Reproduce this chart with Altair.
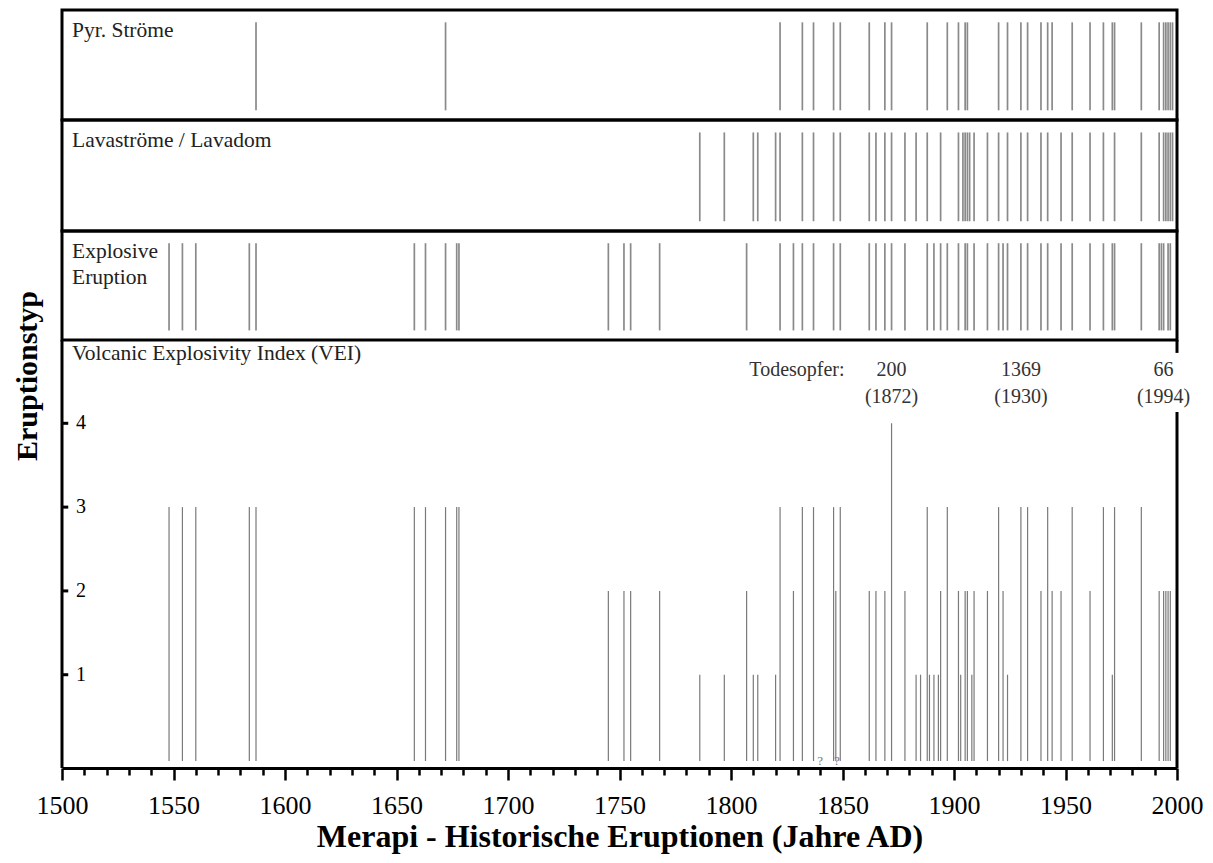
import altair as alt
import pandas as pd

FONT = "Liberation Serif"

# ---------------- data (years) ----------------
pyr_years = [1587, 1672, 1822, 1832, 1837, 1846, 1849, 1862, 1869, 1872, 1888, 1897,
             1902, 1905, 1906, 1920, 1924, 1930, 1933, 1939, 1942, 1944, 1953, 1961,
             1967, 1971, 1972, 1984, 1992, 1994, 1995, 1996, 1997, 1998]

lava_years = [1786, 1797, 1810, 1812, 1820, 1822, 1832, 1837, 1846, 1849, 1862, 1865,
              1869, 1872, 1878, 1883, 1888, 1894, 1902, 1904, 1905, 1906, 1907, 1909,
              1915, 1920, 1924, 1930, 1933, 1939, 1942, 1948, 1953, 1961, 1967, 1972,
              1984, 1992, 1994, 1995, 1996, 1997, 1998]

expl_years = [1548, 1554, 1560, 1584, 1587, 1658, 1663, 1672, 1677, 1678, 1745, 1752,
              1755, 1768, 1807, 1822, 1828, 1832, 1837, 1846, 1849, 1862, 1865, 1869,
              1872, 1878, 1888, 1891, 1894, 1897, 1902, 1905, 1906, 1909, 1915, 1920,
              1922, 1924, 1930, 1933, 1939, 1942, 1948, 1953, 1961, 1967, 1971, 1972,
              1984, 1992, 1993, 1994, 1996, 1997]

vei_years = [1548, 1554, 1560, 1584, 1587, 1658, 1663, 1672, 1677, 1678, 1745, 1752,
             1755, 1768, 1786, 1797, 1807, 1810, 1812, 1820, 1822, 1828, 1832, 1837,
             1846, 1847, 1849, 1862, 1865, 1869, 1872, 1878, 1883, 1885, 1888, 1889,
             1891, 1893, 1894, 1897, 1902, 1903, 1905, 1906, 1908, 1909, 1915, 1920,
             1922, 1924, 1930, 1933, 1939, 1942, 1944, 1948, 1953, 1961, 1967, 1971,
             1972, 1984, 1992, 1994, 1995, 1996, 1997]
vei_values = [3, 3, 3, 3, 3, 3, 3, 3, 3, 3, 2, 2,
              2, 2, 1, 1, 2, 1, 1, 1, 3, 2, 3, 3,
              3, 2, 3, 2, 2, 2, 4, 2, 1, 1, 3, 1,
              1, 1, 2, 3, 2, 1, 2, 2, 1, 2, 2, 3,
              2, 1, 3, 3, 2, 3, 2, 2, 3, 2, 3, 1,
              3, 3, 2, 2, 2, 2, 2]

unknown_years = [1840, 1847.5]          # eruptions marked "?"

death_years = [1872, 1930, 1994]
death_counts = ["200", "1369", "66"]

x_ticks = list(range(1500, 2001, 10))
vei_ticks = [1, 2, 3, 4]

# ---------------- scales ----------------
W = 1115
x_scale = alt.Scale(domain=[1500, 2000], nice=False, zero=False)
band_scale = alt.Scale(domain=[-0.11, 1.14], nice=False, zero=False)
vei_scale = alt.Scale(domain=[-0.113, 4.994], nice=False, zero=False)

LINE_COLOR = "#8a8a8a"
LABEL_SIZE = 21.5


def band_panel(years, label, height):
    df = pd.DataFrame({"year": years})
    rules = alt.Chart(df).mark_rule(color=LINE_COLOR, strokeWidth=1.7).encode(
        x=alt.X("year:Q", scale=x_scale, axis=None),
        y=alt.YDatum(0, scale=band_scale, axis=None),
        y2=alt.Y2Datum(1),
    )
    text = alt.Chart(pd.DataFrame({"label": [label]})).mark_text(
        align="left", baseline="alphabetic", font=FONT, fontSize=LABEL_SIZE,
        color="#222222", lineBreak="\n", lineHeight=26,
    ).encode(x=alt.value(10), y=alt.value(27), text="label:N")
    return alt.layer(rules, text).properties(
        width=W, height=height,
        view=alt.ViewBackground(stroke="black", strokeWidth=3),
    )


p1 = band_panel(pyr_years, "Pyr. Ströme", 110)
p2 = band_panel(lava_years, "Lavaströme / Lavadom", 111)
p3 = band_panel(expl_years, "Explosive\nEruption", 109)

# ---------------- VEI panel ----------------
vei_df = pd.DataFrame({"year": vei_years, "vei": vei_values})

x_axis = alt.Axis(
    values=x_ticks, format="d",
    labelExpr="datum.value % 50 === 0 ? datum.label : ''",
    tickSize={"condition": {"test": "datum.value % 50 === 0", "value": 12}, "value": 7},
    tickWidth=2.5, tickColor="black",
    domainColor="black", domainWidth=3,
    labelFont=FONT, labelFontSize=26, labelColor="black", labelPadding=12,
    labelFlush=False, labelOverlap=False,
    grid=False,
    title="Merapi - Historische Eruptionen (Jahre AD)",
    titleFont=FONT, titleFontSize=32, titleFontWeight="bold", titleColor="black",
    titlePadding=3,
)


def X(field=None, datum=None):
    if datum is not None:
        return alt.XDatum(datum, scale=x_scale, axis=x_axis)
    return alt.X(field, scale=x_scale, axis=x_axis)


def Y(field=None, datum=None):
    if datum is not None:
        return alt.YDatum(datum, scale=vei_scale, axis=None)
    return alt.Y(field, scale=vei_scale, axis=None)


vei_rules = alt.Chart(vei_df).mark_rule(color="#7a7a7a", strokeWidth=1.2).encode(
    x=X("year:Q"),
    y=Y("vei:Q"),
    y2=alt.Y2Datum(-0.03),
)

# frame of the VEI panel (right edge interrupted behind the "66 (1994)" text)
frame_df = pd.DataFrame({
    "x": [1500, 2000, 2000],
    "y0": [-0.113, -0.113, 4.84],
    "y1": [4.994, 4.135, 4.994],
})
frame = alt.Chart(frame_df).mark_rule(color="black", strokeWidth=3).encode(
    x=X("x:Q"),
    y=Y("y0:Q"),
    y2="y1:Q",
)

# VEI axis: ticks and labels drawn inside the frame
vtick_df = pd.DataFrame({"v": vei_ticks, "lab": [str(v) for v in vei_ticks]})
vticks = alt.Chart(vtick_df).mark_rule(color="black", strokeWidth=3).encode(
    x=X(datum=1500), x2=alt.X2Datum(1502.8), y=Y("v:Q"),
)
vlabels = alt.Chart(vtick_df).mark_text(
    font=FONT, fontSize=20, color="black", align="left", baseline="middle", dx=14,
).encode(x=X(datum=1500), y=Y("v:Q"), text="lab:N")

qmarks = alt.Chart(pd.DataFrame({"year": unknown_years, "t": ["?"] * len(unknown_years)})).mark_text(
    font=FONT, fontSize=13, color="#777777", baseline="middle",
).encode(x=X("year:Q"), y=alt.value(421), text="t:N")

death_df = pd.DataFrame({
    "year": death_years,
    "count": death_counts,
    "ylab": ["(" + str(y) + ")" for y in death_years],
})
deaths1 = alt.Chart(death_df).mark_text(
    font=FONT, fontSize=20, color="#333333", baseline="alphabetic",
).encode(x=X("year:Q"), y=alt.value(36), text="count:N")
deaths2 = alt.Chart(death_df).mark_text(
    font=FONT, fontSize=20, color="#333333", baseline="alphabetic",
).encode(x=X("year:Q"), y=alt.value(63), text="ylab:N")
todes = alt.Chart(pd.DataFrame({"t": ["Todesopfer:"]})).mark_text(
    font=FONT, fontSize=20, color="#333333", baseline="alphabetic", align="right", dx=-47,
).encode(x=X(datum=death_years[0]), y=alt.value(36), text="t:N")

vei_label = alt.Chart(pd.DataFrame({"label": ["Volcanic Explosivity Index (VEI)"]})).mark_text(
    align="left", baseline="alphabetic", font=FONT, fontSize=LABEL_SIZE, color="#222222",
).encode(x=alt.value(10), y=alt.value(20), text="label:N")

ytitle = alt.Chart(pd.DataFrame({"label": ["Eruptionstyp"]})).mark_text(
    align="center", baseline="middle", font=FONT, fontSize=30, fontWeight="bold",
    color="black", angle=270,
).encode(x=alt.value(-34), y=alt.value(36), text="label:N")

p4 = alt.layer(vei_rules, frame, vticks, vlabels, qmarks, deaths1, deaths2, todes,
               vei_label, ytitle).properties(
    width=W, height=428,
    view=alt.ViewBackground(stroke="transparent"),
)

chart = alt.vconcat(p1, p2, p3, p4, spacing=0, bounds="flush").properties(
    padding={"left": 3, "top": 0, "right": 0, "bottom": 0},
    background="white",
).configure(font=FONT).configure_view(stroke="black", strokeWidth=3)

chart.save("out.html", embed_options={"renderer": "svg", "actions": False})
